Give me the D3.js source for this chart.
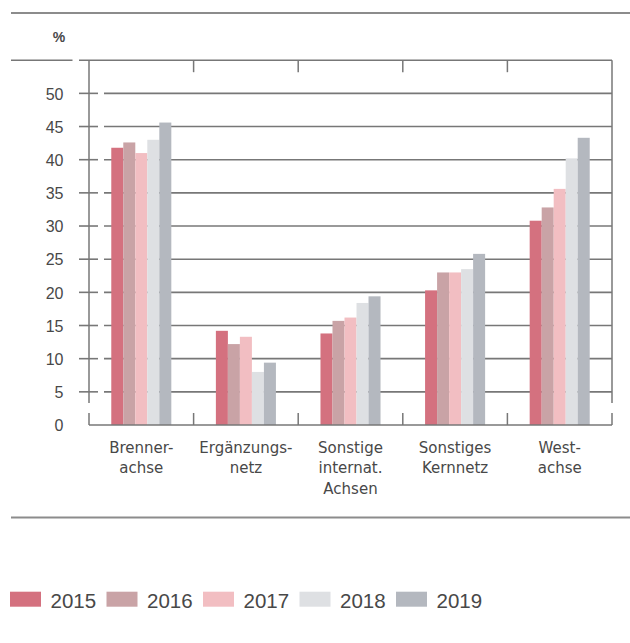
<!DOCTYPE html>
<html>
<head>
<meta charset="utf-8">
<script src="https://cdn.jsdelivr.net/npm/d3@7"></script>
<style>
  html, body { margin: 0; padding: 0; background: #fff; }
  svg { display: block; }
  .lbl { font-family: "DejaVu Sans", sans-serif; fill: #484848; }
  .num { font-family: "Liberation Sans", Arial, sans-serif; fill: #484848; }
</style>
</head>
<body>
<svg id="chart" width="630" height="643"></svg>
<script>
// Categories (multi-line labels) and yearly series, in percent
const categories = ["Brennerachse", "Ergänzungsnetz", "Sonstige internat. Achsen", "Sonstiges Kernnetz", "Westachse"];
const categoryLines = [["Brenner-", "achse"], ["Ergänzungs-", "netz"], ["Sonstige", "internat.", "Achsen"], ["Sonstiges", "Kernnetz"], ["West-", "achse"]];
const years = ["2015", "2016", "2017", "2018", "2019"];
const v2015 = [41.8, 14.2, 13.8, 20.3, 30.8];
const v2016 = [42.6, 12.2, 15.7, 23.0, 32.8];
const v2017 = [41.0, 13.3, 16.2, 23.0, 35.6];
const v2018 = [43.0, 8.0, 18.4, 23.5, 40.2];
const v2019 = [45.6, 9.4, 19.4, 25.8, 43.3];
const yTicks = [0, 5, 10, 15, 20, 25, 30, 35, 40, 45, 50];
const yLabel = "%";

const series = [v2015, v2016, v2017, v2018, v2019];
const colors = ["#d4717f", "#c9a3a6", "#f2bec2", "#dee0e3", "#b4b8bf"];
const lineColor = "#777";

const svg = d3.select("#chart");

const y = d3.scaleLinear().domain([0, 55]).range([425, 60.2]);
const x = d3.scaleBand().domain(categories).range([89, 612]).paddingInner(0.426).paddingOuter(0.213);
const xs = d3.scaleBand().domain(years).range([0, x.bandwidth()]);
const step = x.step();
const plotLeft = x.range()[0], plotRight = x.range()[1];
const plotTop = y(55), base = y(0);

// Rules above and below the chart
svg.append("line").attr("x1", 11).attr("x2", 630).attr("y1", 13).attr("y2", 13)
  .attr("stroke", "#8c8c8c").attr("stroke-width", 2.2);
svg.append("line").attr("x1", 11).attr("x2", 630).attr("y1", 517.5).attr("y2", 517.5)
  .attr("stroke", "#8c8c8c").attr("stroke-width", 2.2);

// Frame top line (with the short lead-in on the left)
svg.append("line").attr("x1", 11).attr("x2", 72.5).attr("y1", plotTop).attr("y2", plotTop)
  .attr("stroke", lineColor).attr("stroke-width", 1.6);
svg.append("line").attr("x1", 79).attr("x2", plotRight).attr("y1", plotTop).attr("y2", plotTop)
  .attr("stroke", lineColor).attr("stroke-width", 1.6);

// Gridlines with dashes crossing the axis
const grid = svg.append("g");
grid.selectAll("line.g").data(yTicks.filter(d => d > 0)).join("line")
  .attr("x1", 104).attr("x2", plotRight).attr("y1", d => y(d)).attr("y2", d => y(d))
  .attr("stroke", lineColor).attr("stroke-width", 1.6);
grid.selectAll("line.d").data(yTicks.filter(d => d > 0)).join("line")
  .attr("x1", 79).attr("x2", 98).attr("y1", d => y(d)).attr("y2", d => y(d))
  .attr("stroke", lineColor).attr("stroke-width", 1.6);

// Side lines
svg.append("line").attr("x1", plotLeft).attr("x2", plotLeft).attr("y1", plotTop).attr("y2", 403)
  .attr("stroke", lineColor).attr("stroke-width", 1.5);
svg.append("line").attr("x1", plotRight).attr("x2", plotRight).attr("y1", plotTop).attr("y2", 403)
  .attr("stroke", lineColor).attr("stroke-width", 1.5);

// Boundary ticks at top and bottom
const bounds = d3.range(categories.length + 1).map(i => plotLeft + i * step);
svg.append("g").selectAll("line").data(bounds.slice(1, -1)).join("line")
  .attr("x1", d => d).attr("x2", d => d).attr("y1", plotTop).attr("y2", plotTop + 12)
  .attr("stroke", lineColor).attr("stroke-width", 1.5);
svg.append("g").selectAll("line").data(bounds).join("line")
  .attr("x1", d => d).attr("x2", d => d).attr("y1", 413).attr("y2", base)
  .attr("stroke", lineColor).attr("stroke-width", 1.5);

// Bars
const groups = svg.append("g").selectAll("g").data(categories).join("g")
  .attr("transform", d => `translate(${x(d)},0)`);
groups.selectAll("rect").data((c, ci) => years.map((yr, si) => ({ yr, si, v: series[si][ci] }))).join("rect")
  .attr("x", d => xs(d.yr)).attr("width", xs.bandwidth())
  .attr("y", d => y(d.v)).attr("height", d => base - y(d.v))
  .attr("fill", d => colors[d.si]);

// Baseline
svg.append("line").attr("x1", plotLeft).attr("x2", plotRight).attr("y1", base).attr("y2", base)
  .attr("stroke", lineColor).attr("stroke-width", 1.5);

// Y axis labels
const yAxis = d3.axisLeft(y).tickValues(yTicks).tickSize(0).tickPadding(0);
const ya = svg.append("g").attr("transform", "translate(63.5,0)").call(yAxis);
ya.select(".domain").remove();
ya.attr("font-family", null).attr("font-size", null);
ya.selectAll("text").attr("class", "num").attr("font-size", 16).attr("dy", "0.36em");

svg.append("text").attr("class", "num").attr("x", 59).attr("y", 41.7)
  .attr("text-anchor", "middle").attr("font-size", 14).attr("font-weight", "bold").text(yLabel);

// Category labels
const cl = svg.append("g").selectAll("text").data(categories).join("text")
  .attr("class", "lbl").attr("font-size", 15).attr("text-anchor", "middle")
  .attr("x", d => x(d) + x.bandwidth() / 2).attr("y", 452.7);
cl.selectAll("tspan").data((d, i) => categoryLines[i]).join("tspan")
  .attr("x", function () { return d3.select(this.parentNode).attr("x"); })
  .attr("dy", (d, i) => i === 0 ? 0 : 20.6).text(d => d);

// Legend
const leg = svg.append("g").selectAll("g").data(years).join("g")
  .attr("transform", (d, i) => `translate(${10 + i * 96.5},0)`);
leg.append("rect").attr("x", 0).attr("y", 591.7).attr("width", 31).attr("height", 15)
  .attr("fill", (d, i) => colors[i]);
leg.append("text").attr("class", "num").attr("x", 40.5).attr("y", 608.3).attr("font-size", 20.5).text(d => d);
</script>
</body>
</html>
